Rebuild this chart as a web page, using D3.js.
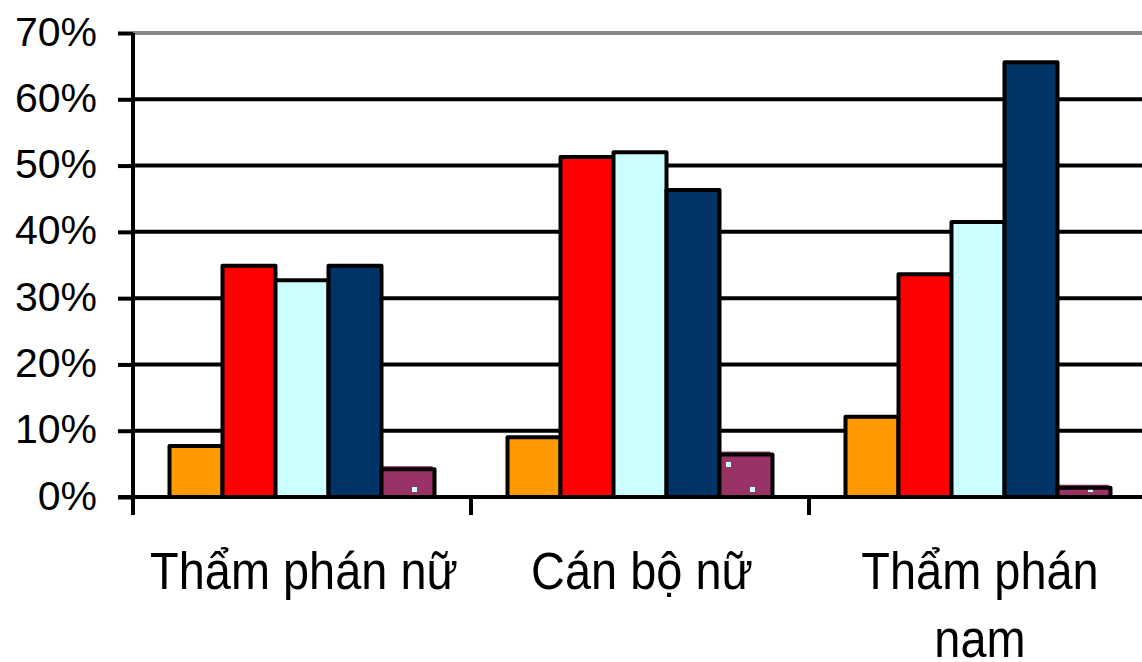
<!DOCTYPE html>
<html>
<head>
<meta charset="utf-8">
<script src="https://cdn.jsdelivr.net/npm/d3@7"></script>
<style>
  html, body { margin: 0; padding: 0; background: #fff; }
  svg { display: block; }
  text { font-family: "Liberation Sans", Arial, sans-serif; fill: #000; }
</style>
</head>
<body>
<svg id="chart" width="1142" height="662"></svg>
<script>
// Category groups along the x axis
const categories = ["Thẩm phán nữ", "Cán bộ nữ", "Thẩm phán nam"];

// Five series, percentages per category
const seriesOrange = [7.7, 9.0, 12.1];
const seriesRed    = [34.9, 51.3, 33.6];
const seriesCyan   = [32.7, 52.0, 41.5];
const seriesNavy   = [34.9, 46.3, 65.6];
const seriesMaroon = [4.2, 6.4, 1.4];

// Y axis tick values (percent)
const yTicks = [0, 10, 20, 30, 40, 50, 60, 70];

const series = [
  { key: "orange", values: seriesOrange, color: "#FF9900" },
  { key: "red",    values: seriesRed,    color: "#FF0000" },
  { key: "cyan",   values: seriesCyan,   color: "#CCFFFF" },
  { key: "navy",   values: seriesNavy,   color: "#003366" },
  { key: "maroon", values: seriesMaroon, color: "#993366", pattern: true }
];

const svg = d3.select("#chart");

const plotLeft = 133, plotTop = 33, plotBottom = 497, groupWidth = 338;
const plotRight = plotLeft + groupWidth * categories.length;

const x0 = d3.scaleBand().domain(categories).range([plotLeft, plotRight]).padding(0);
const x1 = d3.scaleBand().domain(series.map(s => s.key))
  .range([36.5, x0.bandwidth() - 36.5]).padding(0);
const y = d3.scaleLinear().domain([0, 70]).range([plotBottom, plotTop]);

// Dotted fill used by the last series
const defs = svg.append("defs");
const pat = defs.append("pattern")
  .attr("id", "dots")
  .attr("patternUnits", "userSpaceOnUse")
  .attr("width", 48).attr("height", 50);
pat.append("rect").attr("width", 48).attr("height", 50).attr("fill", "#993366");
pat.append("rect").attr("x", 15).attr("y", 12).attr("width", 5).attr("height", 5).attr("fill", "#CCFFFF");
pat.append("rect").attr("x", 39).attr("y", 37).attr("width", 5).attr("height", 5).attr("fill", "#CCFFFF");

// Horizontal gridlines (top one grey)
svg.append("g").selectAll("line")
  .data(yTicks)
  .join("line")
  .attr("x1", plotLeft).attr("x2", plotRight)
  .attr("y1", d => y(d)).attr("y2", d => y(d))
  .attr("stroke", d => d === 70 ? "#888888" : "#000")
  .attr("stroke-width", 4);

// Y axis with labels
const yAxis = svg.append("g")
  .attr("transform", `translate(${plotLeft},0)`)
  .call(d3.axisLeft(y).tickValues(yTicks).tickSizeInner(15).tickSizeOuter(0)
    .tickPadding(21).tickFormat(d => d + "%"));
yAxis.select(".domain").remove();
yAxis.selectAll(".tick line").attr("stroke", "#000").attr("stroke-width", 4);
yAxis.selectAll(".tick text")
  .attr("font-size", 41)
  .attr("dy", 12)
  .style("font-family", "'Liberation Sans', Arial, sans-serif");

// Bars
const groups = svg.append("g").selectAll("g")
  .data(categories)
  .join("g")
  .attr("transform", d => `translate(${x0(d)},0)`);

// Slightly offset under-fill for the patterned series
groups.selectAll("rect.under")
  .data((c, i) => series.filter(s => s.pattern).map(s => ({ s, v: s.values[i] })))
  .join("rect")
  .attr("class", "under")
  .attr("x", d => x1(d.s.key) - 2)
  .attr("y", d => y(d.v) - 3)
  .attr("width", x1.bandwidth())
  .attr("height", d => y(0) - y(d.v))
  .attr("fill", "#993366");

groups.selectAll("rect.bar")
  .data((c, i) => series.map(s => ({ s, v: s.values[i] })))
  .join("rect")
  .attr("class", "bar")
  .attr("x", d => x1(d.s.key))
  .attr("y", d => y(d.v))
  .attr("width", x1.bandwidth())
  .attr("height", d => y(0) - y(d.v))
  .attr("fill", d => d.s.pattern ? "url(#dots)" : d.s.color)
  .attr("stroke", "#000")
  .attr("stroke-width", 4)
  .attr("stroke-linejoin", "round");

// Baseline and vertical axis line
svg.append("line")
  .attr("x1", plotLeft - 15).attr("x2", plotRight)
  .attr("y1", y(0)).attr("y2", y(0))
  .attr("stroke", "#000").attr("stroke-width", 4);
svg.append("line")
  .attr("x1", plotLeft).attr("x2", plotLeft)
  .attr("y1", y(70)).attr("y2", y(0) + 18)
  .attr("stroke", "#000").attr("stroke-width", 4);

// Category boundary ticks
const boundaries = categories.map(c => x0(c)).concat([plotRight]);
svg.append("g").selectAll("line")
  .data(boundaries)
  .join("line")
  .attr("x1", d => d).attr("x2", d => d)
  .attr("y1", y(0)).attr("y2", y(0) + 18)
  .attr("stroke", "#000").attr("stroke-width", 4);

// Category labels: slightly condensed type, wrapped to the group width
const labelSize = 51, lineHeight = 68, squeeze = 0.92;
const labels = svg.append("g").selectAll("text")
  .data(categories)
  .join("text")
  .attr("transform", d => `translate(${x0(d) + x0.bandwidth() / 2 + 2},589) scale(${squeeze},1)`)
  .attr("x", 0)
  .attr("y", 0)
  .attr("text-anchor", "middle")
  .attr("font-size", labelSize);

labels.each(function (d) {
  const text = d3.select(this);
  const words = d.split(" ");
  const maxW = (x0.bandwidth() - 4) / squeeze;
  let line = [];
  let tspan = text.append("tspan").attr("x", 0).attr("dy", 0);
  for (const w of words) {
    line.push(w);
    tspan.text(line.join(" "));
    if (tspan.node().getComputedTextLength() > maxW && line.length > 1) {
      line.pop();
      tspan.text(line.join(" "));
      line = [w];
      tspan = text.append("tspan").attr("x", 0).attr("dy", lineHeight).text(w);
    }
  }
});
</script>
</body>
</html>
